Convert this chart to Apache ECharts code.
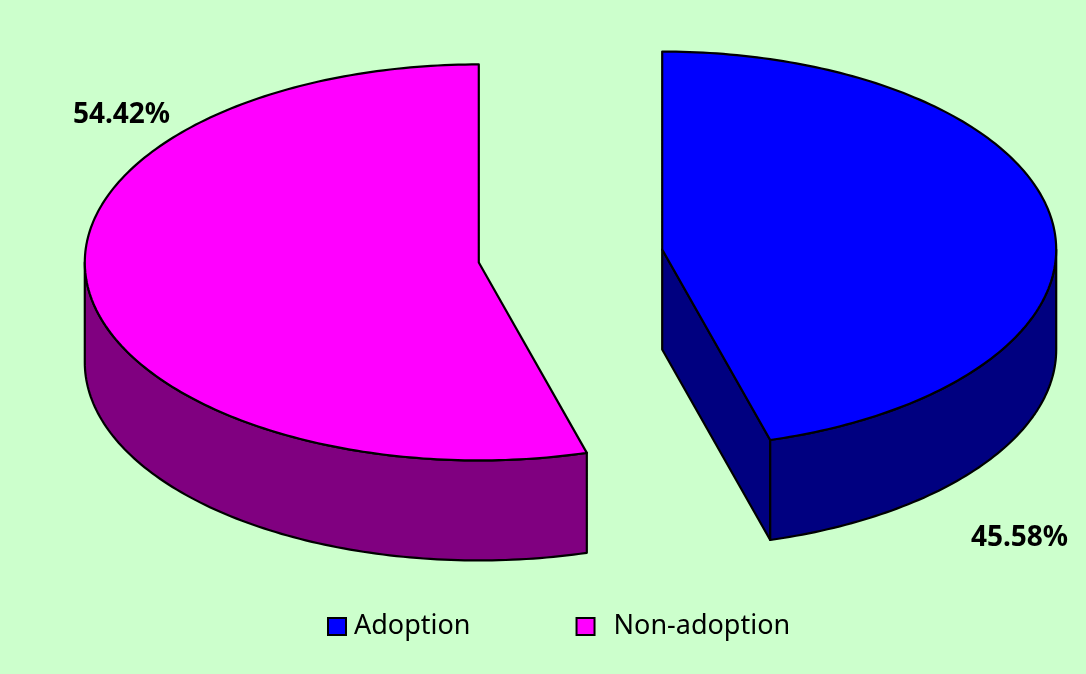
<!DOCTYPE html>
<html>
<head>
<meta charset="utf-8">
<script src="https://cdn.jsdelivr.net/npm/echarts@6/dist/echarts.min.js"></script>
<style>
  html, body { margin: 0; padding: 0; background: #ccffcc; }
  #chart { width: 1086px; height: 674px; }
</style>
</head>
<body>
<div id="chart"></div>
<script>
const categories = ['Adoption', 'Non-adoption'];
const shares = [45.58, 54.42];

const topColors = ['#0000ff', '#ff00ff'];
const sideColors = ['#000080', '#800080'];
// label anchor (fraction of chart width / height), one per slice
const labelAnchors = [[1019.5 / 1086, 538 / 674], [121.5 / 1086, 115 / 674]];

const total = shares.reduce((a, b) => a + b, 0);

function sliceAngles(i) {
  let start = 0;
  for (let j = 0; j < i; j++) start += shares[j] / total * 360;
  return [start, start + shares[i] / total * 360];
}

const rad = d => d * Math.PI / 180;

function renderSlice(params, api) {
  const i = params.seriesIndex;
  const W = api.getWidth();
  const H = api.getHeight();
  const sx = W / 1086, sy = H / 674;
  const cx = 570.5 * sx, cy = 256 * sy;
  const rx = 394 * sx, ry = 198 * sy;
  const depth = 100 * sy;
  const explode = 0.235;

  const [a0, a1] = sliceAngles(i);
  const mid = rad((a0 + a1) / 2);
  const ox = explode * rx * Math.sin(mid);
  const oy = -explode * ry * Math.cos(mid);

  const pt = (deg, dz) => [
    cx + ox + rx * Math.sin(rad(deg)),
    cy + oy - ry * Math.cos(rad(deg)) + (dz || 0)
  ];
  const arc = (from, to, dz) => {
    const n = Math.max(2, Math.ceil(Math.abs(to - from)));
    const pts = [];
    for (let k = 0; k <= n; k++) pts.push(pt(from + (to - from) * k / n, dz));
    return pts;
  };
  const center = [cx + ox, cy + oy];
  const centerLow = [cx + ox, cy + oy + depth];

  const edge = { stroke: '#000', lineWidth: 2.2, lineJoin: 'round' };
  const children = [];

  // cut faces along the radii, only the ones facing the viewer
  if (Math.sin(rad(a1)) > 0.001) {
    children.push({
      type: 'polygon',
      shape: { points: [center, pt(a1), pt(a1, depth), centerLow] },
      style: Object.assign({ fill: sideColors[i] }, edge)
    });
  }
  if (Math.sin(rad(a0)) < -0.001) {
    children.push({
      type: 'polygon',
      shape: { points: [center, pt(a0), pt(a0, depth), centerLow] },
      style: Object.assign({ fill: sideColors[i] }, edge)
    });
  }

  // outer wall, front half only
  const w0 = Math.max(a0, 90), w1 = Math.min(a1, 270);
  if (w1 > w0) {
    children.push({
      type: 'polygon',
      shape: { points: arc(w0, w1, 0).concat(arc(w1, w0, depth)) },
      style: Object.assign({ fill: sideColors[i] }, edge)
    });
  }

  // top face
  children.push({
    type: 'polygon',
    shape: { points: [center].concat(arc(a0, a1, 0)) },
    style: Object.assign({ fill: topColors[i] }, edge)
  });

  // percentage label
  children.push({
    type: 'text',
    style: {
      x: labelAnchors[i][0] * W,
      y: labelAnchors[i][1] * H,
      text: (shares[i] / total * 100).toFixed(2) + '%',
      font: 'bold 28px "Noto Sans"',
      fill: '#000',
      align: 'center',
      verticalAlign: 'middle'
    }
  });

  return { type: 'group', children };
}

const chart = echarts.init(document.getElementById('chart'));

chart.setOption({
  backgroundColor: '#ccffcc',
  animation: false,
  legend: {
    data: categories,
    left: 322,
    top: 608,
    icon: 'rect',
    itemWidth: 18,
    itemHeight: 17,
    itemGap: 105,
    itemStyle: { borderColor: '#000', borderWidth: 2 },
    formatter: name => name === categories[1] ? '{wide|' + name + '}' : '{norm|' + name + '}',
    textStyle: {
      fontFamily: 'Noto Sans',
      fontSize: 27,
      color: '#000',
      rich: {
        norm: { fontFamily: 'Noto Sans', fontSize: 27, color: '#000', padding: [0, 0, 0, 3] },
        wide: { fontFamily: 'Noto Sans', fontSize: 27, color: '#000', padding: [0, 0, 0, 14] }
      }
    },
    selectedMode: false
  },
  series: categories.map((name, i) => ({
    type: 'custom',
    name: name,
    coordinateSystem: 'none',
    silent: true,
    itemStyle: { color: topColors[i] },
    data: [[shares[i]]],
    renderItem: renderSlice
  }))
});

window.addEventListener('resize', () => chart.resize());
</script>
</body>
</html>
